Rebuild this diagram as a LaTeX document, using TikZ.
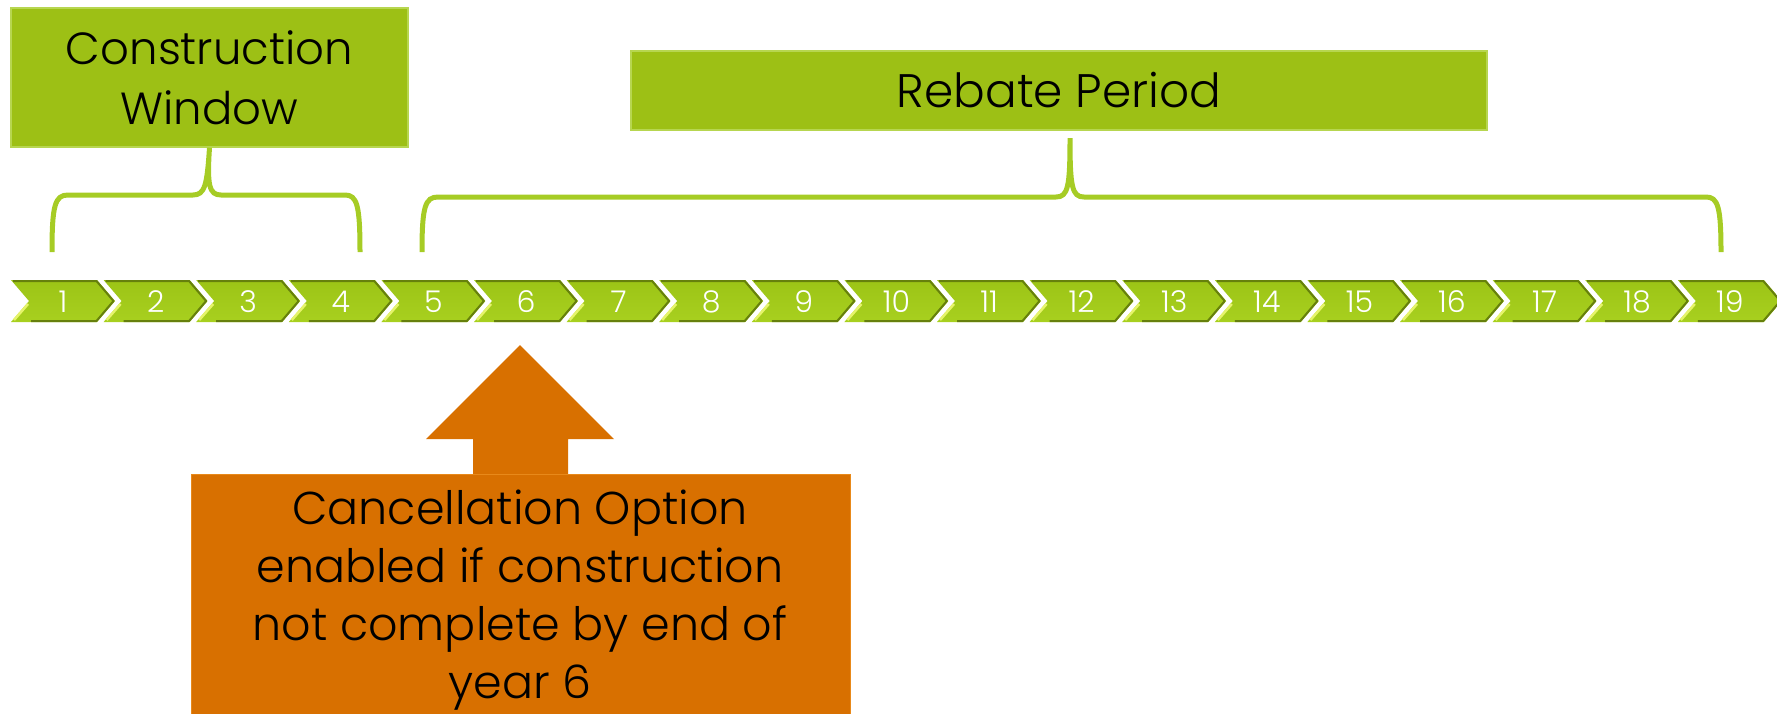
\documentclass[tikz,border=0pt]{standalone}
\usepackage{fontspec}
\IfFontExistsTF{Poppins Light}{\setmainfont{Poppins Light}}{\setmainfont{Poppins}}
\definecolor{boxgreen}{HTML}{9DC015}
\definecolor{boxedge}{HTML}{B7D650}
\definecolor{bracegreen}{HTML}{A6CC25}
\definecolor{chevtop}{HTML}{9CC416}
\definecolor{chevmid}{HTML}{B0D823}
\definecolor{chevbot}{HTML}{A8D01F}
\definecolor{chevdark}{HTML}{66800C}
\definecolor{chevlight}{HTML}{E6F46A}
\definecolor{orangefill}{HTML}{D87000}
\definecolor{orangeedge}{HTML}{E8891A}
\begin{document}
\begin{tikzpicture}[x=1pt,y=-1pt,
  gbox/.style={fill=boxgreen, draw=boxedge, line width=1.5pt, inner sep=0pt, align=center,
    font=\fontsize{45}{60}\selectfont},
  brace/.style={draw=bracegreen, line width=5pt},
  num/.style={text=white, font=\fontsize{30}{30}\selectfont, inner sep=0pt},
  obox/.style={fill=orangefill, draw=orangeedge, line width=1pt, inner sep=0pt},
  otext/.style={align=center, inner sep=0pt, font=\fontsize{46}{58}\selectfont}]
\useasboundingbox (0,0) rectangle (1777,713);

% top boxes
\node[gbox, minimum width=397pt, minimum height=139pt] (cw) at (209.5,77.5) {Construction\\Window};
\node[gbox, minimum width=856pt, minimum height=79pt, font=\fontsize{47}{60}\selectfont] (rp) at (1059,90.5) {Rebate Period};

% braces
\coordinate (b1l) at (52,252);
\coordinate (b1r) at (360,252);
\coordinate (b2l) at (422,252);
\coordinate (b2r) at (1721,252);
\draw[brace] (b1l) .. controls (52,205) and (55,195) .. (68,195) -- (193,195)
  .. controls (205,195) and (207,185) .. (cw.south)
  .. controls (207,185) and (209,195) .. (221,195) -- (345,195)
  .. controls (357,195) and (360,205) .. (b1r);
\draw[brace] (b2l) .. controls (422,207) and (425,197) .. (438,197) -- (1056,197)
  .. controls (1068,197) and (1070,187) .. (1070,138)
  .. controls (1070,187) and (1072,197) .. (1084,197) -- (1706,197)
  .. controls (1718,197) and (1721,207) .. (b2r);

% chevrons
\foreach \i in {1,...,19} {
  \pgfmathsetmacro{\xa}{11+(\i-1)*92.6}
  \shade[top color=chevtop, middle color=chevmid, bottom color=chevbot]
    (\xa,280) -- ++(86,0) -- ++(18,21) -- ++(-18,21) -- ++(-86,0) -- ++(18,-21) -- cycle;
  \draw[chevdark, line width=2pt, line join=round] (\xa+2,281) -- (\xa+85.5,281) -- (\xa+102.5,301) -- (\xa+85.5,321) -- (\xa+20,321);
  \draw[chevlight, line width=2.5pt] (\xa+3,320) -- (\xa+17,304);
  \node[num] (n\i) at (\xa+52,302) {\i};
}

% orange arrow + box
\fill[orangefill] (473,475) -- (473,439) -- (426,439) -- (520,345) -- (614,439) -- (568,439) -- (568,475) -- cycle;
\node[obox, minimum width=659pt, minimum height=250pt] (cb) at (520.5,599) {};
\node[otext] (ct) at (520,600) {Cancellation Option\\enabled if construction\\not complete by end of\\year 6};
\end{tikzpicture}
\end{document}
